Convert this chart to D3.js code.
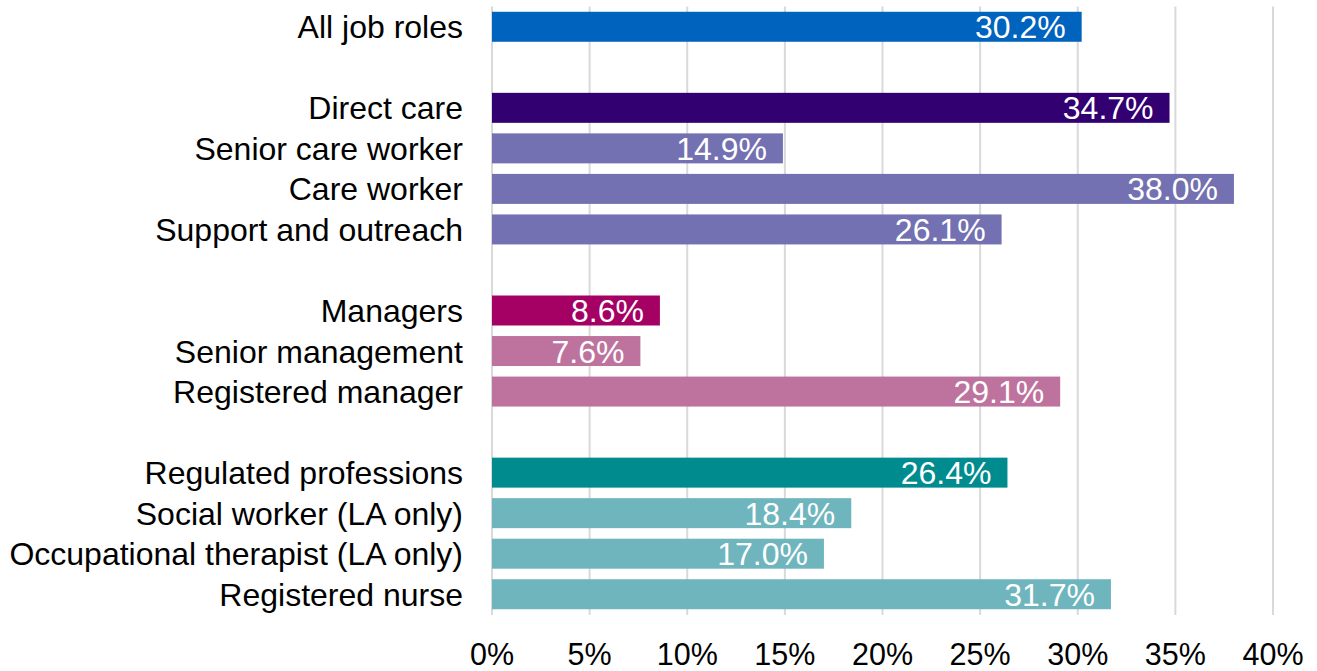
<!DOCTYPE html>
<meta charset="utf-8">
<title>Job roles</title>
<style>
  body { margin: 0; background: #fff; }
  text { font-family: "Liberation Sans", Arial, sans-serif; }
</style>
<body>
<div id="chart"></div>
<script src="https://d3js.org/d3.v7.min.js"></script>
<script>

// rows from top to bottom, blank strings are the gaps between groups
var roles = ["All job roles", "", "Direct care", "Senior care worker", "Care worker", "Support and outreach", "",
             "Managers", "Senior management", "Registered manager", "",
             "Regulated professions", "Social worker (LA only)", "Occupational therapist (LA only)", "Registered nurse"];
var values = [30.2, null, 34.7, 14.9, 38.0, 26.1, null, 8.6, 7.6, 29.1, null, 26.4, 18.4, 17.0, 31.7];
var colours = ["#0063be", null, "#330072", "#7371b1", "#7371b1", "#7371b1", null,
               "#a50064", "#be739e", "#be739e", null,
               "#008c8f", "#6eb5bd", "#6eb5bd", "#6eb5bd"];
var xTicks = [0, 5, 10, 15, 20, 25, 30, 35, 40];

var width = 1317, height = 671;
var margin = {top: 6.5, right: 44, bottom: 56, left: 492};
var fontSize = "32px";

var svg = d3.select("#chart").append("svg")
    .attr("width", width)
    .attr("height", height);

var x = d3.scaleLinear()
    .domain([0, 40])
    .range([margin.left, width - margin.right]);

var y = d3.scaleBand()
    .domain(d3.range(roles.length))
    .range([margin.top, height - margin.bottom - 0.5])
    .paddingInner(0.26)
    .paddingOuter(0.13);

// gridlines
svg.append("g")
    .selectAll("line")
    .data(xTicks)
    .enter().append("line")
    .attr("x1", function(d) { return x(d); })
    .attr("x2", function(d) { return x(d); })
    .attr("y1", margin.top)
    .attr("y2", height - margin.bottom)
    .attr("stroke", "#d9d9d9")
    .attr("stroke-width", 2);

var rows = d3.range(roles.length).filter(function(i) { return values[i] !== null; });

svg.append("g")
    .selectAll("rect")
    .data(rows)
    .enter().append("rect")
    .attr("x", x(0))
    .attr("y", function(i) { return y(i); })
    .attr("width", function(i) { return x(values[i]) - x(0); })
    .attr("height", y.bandwidth())
    .attr("fill", function(i) { return colours[i]; });

// value labels inside the bars
svg.append("g")
    .selectAll("text")
    .data(rows)
    .enter().append("text")
    .attr("x", function(i) { return x(values[i]) - 16; })
    .attr("y", function(i) { return y(i) + y.bandwidth() / 2; })
    .attr("dy", "0.36em")
    .attr("text-anchor", "end")
    .attr("fill", "#fff")
    .style("font-size", fontSize)
    .text(function(i) { return values[i].toFixed(1) + "%"; });

// category labels
svg.append("g")
    .selectAll("text")
    .data(rows)
    .enter().append("text")
    .attr("x", margin.left - 29)
    .attr("y", function(i) { return y(i) + y.bandwidth() / 2; })
    .attr("dy", "0.36em")
    .attr("text-anchor", "end")
    .attr("fill", "#000")
    .style("font-size", fontSize)
    .text(function(i) { return roles[i]; });

// x axis tick labels
svg.append("g")
    .selectAll("text")
    .data(xTicks)
    .enter().append("text")
    .attr("x", function(d) { return x(d); })
    .attr("y", 665)
    .attr("text-anchor", "middle")
    .attr("fill", "#000")
    .style("font-size", "30.5px")
    .text(function(d) { return d + "%"; });

</script>
</body>
